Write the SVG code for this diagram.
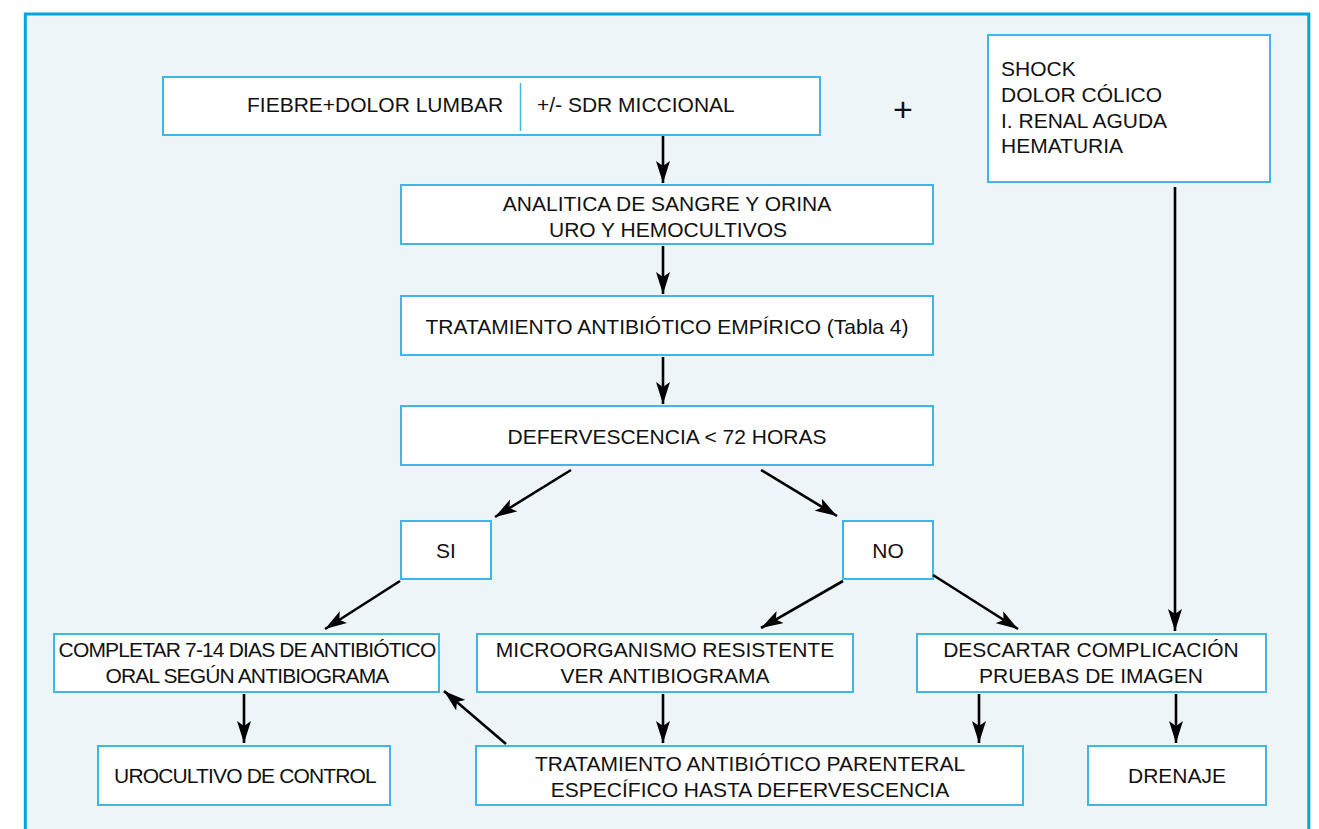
<svg xmlns="http://www.w3.org/2000/svg" width="1319" height="829" viewBox="0 0 1319 829">
  <style>
    .box { fill: #ffffff; stroke: #3fb6e6; stroke-width: 2; }
    .t { font-family: "Liberation Sans", Arial, sans-serif; font-size: 21px; fill: #111111; }
    .c { text-anchor: middle; }
    .tight { letter-spacing: -0.85px; }
    .plus { font-size: 34px; }
    .edge { stroke: #000000; stroke-width: 2.6; fill: none; marker-end: url(#arrow); }
  </style>
  <defs>
    <marker id="arrow" markerUnits="userSpaceOnUse" markerWidth="24" markerHeight="14" refX="22" refY="7" orient="auto">
      <path d="M0,0 L22,7 L0,14 L5,7 Z" fill="#000000"/>
    </marker>
  </defs>

  <!-- panel -->
  <rect x="0" y="0" width="1319" height="829" fill="#ffffff"/>
  <rect x="25.3" y="14" width="1283.5" height="830" fill="#edf5f9" stroke="#00a5e0" stroke-width="3"/>

  <!-- nodes -->
  <g id="sintomas">
    <rect class="box" x="163" y="77" width="657" height="58"/>
    <line x1="520.5" y1="83" x2="520.5" y2="131" stroke="#3fb6e6" stroke-width="1.5"/>
    <text class="t" x="247" y="112">FIEBRE+DOLOR LUMBAR</text>
    <text class="t" x="537" y="112">+/- SDR MICCIONAL</text>
  </g>

  <g id="mas">
    <text class="t plus" x="903" y="121" text-anchor="middle">+</text>
  </g>

  <g id="complicaciones">
    <rect class="box" x="988" y="35" width="282" height="147"/>
    <text class="t" x="1001" y="76">SHOCK</text>
    <text class="t" x="1001" y="102">DOLOR CÓLICO</text>
    <text class="t" x="1001" y="128">I. RENAL AGUDA</text>
    <text class="t" x="1001" y="153">HEMATURIA</text>
  </g>

  <g id="analitica">
    <rect class="box" x="401" y="185" width="532" height="59"/>
    <text class="t c" x="667" y="211">ANALITICA DE SANGRE Y ORINA</text>
    <text class="t c" x="668" y="237">URO Y HEMOCULTIVOS</text>
  </g>

  <g id="empirico">
    <rect class="box" x="401" y="296" width="532" height="59"/>
    <text class="t c" x="667" y="334">TRATAMIENTO ANTIBIÓTICO EMPÍRICO (Tabla 4)</text>
  </g>

  <g id="defervescencia">
    <rect class="box" x="401" y="406" width="532" height="59"/>
    <text class="t c" x="667" y="444">DEFERVESCENCIA &lt; 72 HORAS</text>
  </g>

  <g id="si">
    <rect class="box" x="401" y="521" width="90" height="58"/>
    <text class="t c" x="446" y="558">SI</text>
  </g>

  <g id="no">
    <rect class="box" x="843" y="521" width="90" height="58"/>
    <text class="t c" x="888" y="558">NO</text>
  </g>

  <g id="completar">
    <rect class="box" x="54" y="634" width="385" height="58"/>
    <text class="t c tight" x="247" y="657">COMPLETAR 7-14 DIAS DE ANTIBIÓTICO</text>
    <text class="t c tight" x="247" y="683">ORAL SEGÚN ANTIBIOGRAMA</text>
  </g>

  <g id="microorganismo">
    <rect class="box" x="477" y="634" width="376" height="58"/>
    <text class="t c" x="665" y="657">MICROORGANISMO RESISTENTE</text>
    <text class="t c" x="665" y="683">VER ANTIBIOGRAMA</text>
  </g>

  <g id="descartar">
    <rect class="box" x="917" y="634" width="349" height="58"/>
    <text class="t c" x="1091" y="657">DESCARTAR COMPLICACIÓN</text>
    <text class="t c" x="1091" y="683">PRUEBAS DE IMAGEN</text>
  </g>

  <g id="urocultivo">
    <rect class="box" x="98" y="746" width="292" height="59"/>
    <text class="t c tight" x="245" y="783">UROCULTIVO DE CONTROL</text>
  </g>

  <g id="parenteral">
    <rect class="box" x="476" y="746" width="547" height="59"/>
    <text class="t c" x="750" y="771">TRATAMIENTO ANTIBIÓTICO PARENTERAL</text>
    <text class="t c" x="750" y="797">ESPECÍFICO HASTA DEFERVESCENCIA</text>
  </g>

  <g id="drenaje">
    <rect class="box" x="1088" y="746" width="178" height="59"/>
    <text class="t c" x="1177" y="783">DRENAJE</text>
  </g>

  <!-- connectors -->
  <g id="connectors">
    <line class="edge" x1="663" y1="136" x2="663" y2="183"/>
    <line class="edge" x1="663" y1="246" x2="663" y2="294"/>
    <line class="edge" x1="663" y1="357" x2="663" y2="404"/>
    <line class="edge" x1="571" y1="470" x2="495" y2="517"/>
    <line class="edge" x1="761" y1="470" x2="837" y2="516"/>
    <line class="edge" x1="400" y1="581" x2="325" y2="629"/>
    <line class="edge" x1="843" y1="581" x2="761" y2="628"/>
    <line class="edge" x1="933" y1="575" x2="1018" y2="629"/>
    <line class="edge" x1="1175" y1="187" x2="1175" y2="631"/>
    <line class="edge" x1="244" y1="694" x2="244" y2="743"/>
    <line class="edge" x1="663" y1="694" x2="663" y2="743"/>
    <line class="edge" x1="979" y1="694" x2="979" y2="743"/>
    <line class="edge" x1="1176" y1="694" x2="1176" y2="743"/>
    <line class="edge" x1="506" y1="744" x2="444" y2="691"/>
  </g>
</svg>
